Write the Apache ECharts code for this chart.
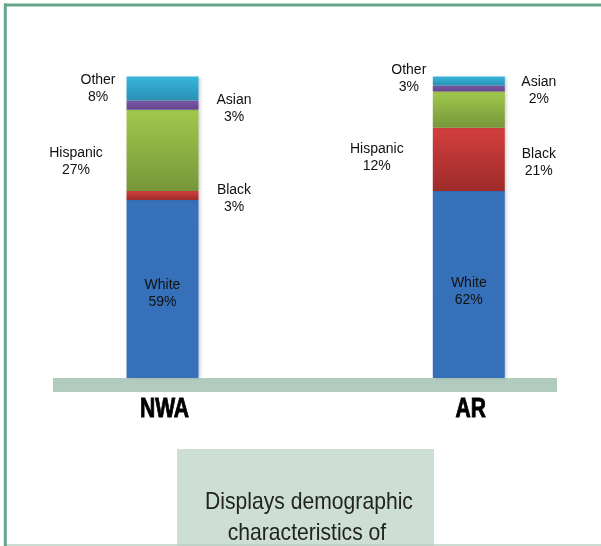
<!DOCTYPE html>
<html>
<head>
<meta charset="utf-8">
<script src="https://cdn.jsdelivr.net/npm/echarts@6/dist/echarts.min.js"></script>
<style>
html,body{margin:0;padding:0;background:#fff;}
#chart{width:601px;height:546px;}
</style>
</head>
<body>
<div id="chart"></div>
<script>
// ---- data ----
const categories = ['NWA', 'AR'];
const seriesNames = ['White', 'Black', 'Hispanic', 'Asian', 'Other'];
const white = [59, 62];
const black = [3, 21];
const hispanic = [27, 12];
const asian = [3, 2];
const other = [8, 3];
const captionLines = ['Displays demographic', 'characteristics of'];

// ---- layout / styles ----
const labelOffsets = {
  White: [[0, 5], [0, 7]],
  Black: [[71.5, 3], [70, 3]],
  Hispanic: [[-86.5, 11], [-92, 48]],
  Asian: [[71.5, 3.5], [70, 2.5]],
  Other: [[-64.5, 0], [-60, -2]]
};
const gradients = {
  White: ['#3771b9', '#3570b8'],
  Black: ['#d33f3e', '#9d2b2b'],
  Hispanic: ['#a1c94d', '#76963a'],
  Asian: ['#7c5aa8', '#62448c'],
  Other: ['#38b6dd', '#2a90b3']
};

const values = { White: white, Black: black, Hispanic: hispanic, Asian: asian, Other: other };

const chart = echarts.init(document.getElementById('chart'), null, { renderer: 'canvas' });

const series = seriesNames.map(name => ({
  name: name,
  type: 'bar',
  stack: 'total',
  barWidth: 72,
  clip: false,
  itemStyle: {
    color: new echarts.graphic.LinearGradient(0, 0, 0, 1, [
      { offset: 0, color: gradients[name][0] },
      { offset: 1, color: gradients[name][1] }
    ]),
    shadowColor: 'rgba(0,0,0,0.18)',
    shadowBlur: 3,
    shadowOffsetX: 2
  },
  label: {
    show: true,
    position: 'inside',
    formatter: '{a}\n{c}%',
    fontFamily: '"Liberation Sans", Arial, sans-serif',
    fontSize: 14,
    lineHeight: 17,
    color: '#111'
  },
  emphasis: { disabled: true },
  data: values[name].map((v, i) => ({ value: v, label: { offset: labelOffsets[name][i] } }))
}));

const captionFont = '24px "Liberation Sans", Arial, sans-serif';
const catFont = 'bold 27px "Liberation Sans", Arial, sans-serif';

const baseGraphics = [
  { type: 'rect', z: 0, shape: { x: 53, y: 378, width: 504, height: 14 }, style: { fill: '#b1cbbf' } },
  { type: 'rect', z: 0, shape: { x: 177, y: 449, width: 257, height: 97 }, style: { fill: '#cddfd5' } },
  { type: 'line', z: 1, shape: { x1: 6, y1: 545, x2: 601, y2: 545 }, style: { stroke: '#b8d0c5', lineWidth: 1.5 } },
  { type: 'line', z: 1, shape: { x1: 5.3, y1: 3.5, x2: 5.3, y2: 546 }, style: { stroke: '#64a68a', lineWidth: 3 } },
  { type: 'line', z: 1, shape: { x1: 4, y1: 5, x2: 601, y2: 5 }, style: { stroke: '#64a68a', lineWidth: 3 } },
  { type: 'text', z: 2, x: 309, y: 502, scaleX: 0.88, style: { text: captionLines[0], textAlign: 'center', textVerticalAlign: 'middle', fill: '#222', font: captionFont } },
  { type: 'text', z: 2, x: 307, y: 533, scaleX: 0.88, style: { text: captionLines[1], textAlign: 'center', textVerticalAlign: 'middle', fill: '#222', font: captionFont } }
];

const option = {
  animation: false,
  grid: { left: 162.5, right: 132.2, top: 76.5, bottom: 168 },
  xAxis: {
    type: 'category',
    data: categories,
    boundaryGap: false,
    axisLine: { show: false },
    axisTick: { show: false },
    splitLine: { show: false },
    axisLabel: { show: false }
  },
  yAxis: { type: 'value', min: 0, max: 100, show: false },
  graphic: baseGraphics,
  series: series
};

chart.setOption(option);

// Category labels placed through the x axis scale, drawn condensed
const catGraphics = categories.map(cat => {
  const px = chart.convertToPixel({ xAxisIndex: 0 }, cat);
  return {
    type: 'text', z: 2, x: px + 2, y: 410, scaleX: 0.78,
    style: { text: cat, textAlign: 'center', textVerticalAlign: 'middle', fill: '#000', stroke: '#000', lineWidth: 0.9, font: catFont }
  };
});
chart.setOption({ graphic: baseGraphics.concat(catGraphics) }, { replaceMerge: ['graphic'] });
</script>
</body>
</html>
